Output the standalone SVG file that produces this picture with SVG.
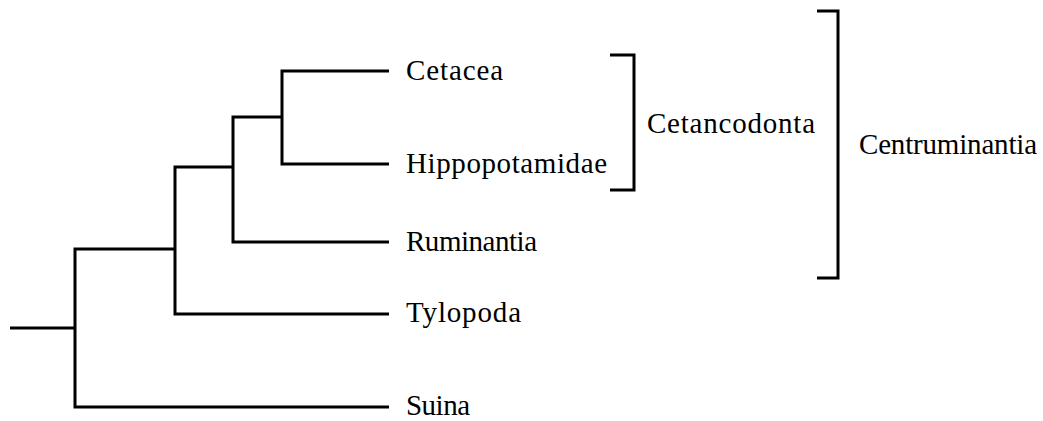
<svg xmlns="http://www.w3.org/2000/svg" width="1043" height="421" viewBox="0 0 1043 421">
<style>
.e{fill:none;stroke:#000;stroke-width:3;stroke-linecap:butt;stroke-linejoin:miter}
.t{font-family:"Liberation Serif","Times New Roman",serif;font-size:29px;fill:#000}
</style>
<rect width="1043" height="421" fill="#fff"/>
<g id="connectors">
<path class="e" d="M10 328H75"/>
<path class="e" d="M175 249H75V407H389"/>
<path class="e" d="M233 167H175V314H389"/>
<path class="e" d="M282 117H233V242H389"/>
<path class="e" d="M389 71H282V164H389"/>
</g>
<g id="cetacea"><text class="t" x="406" y="80" textLength="97" lengthAdjust="spacing">Cetacea</text></g>
<g id="hippopotamidae"><text class="t" x="406" y="173" textLength="201" lengthAdjust="spacing">Hippopotamidae</text></g>
<g id="ruminantia"><text class="t" x="406" y="251" textLength="131" lengthAdjust="spacing">Ruminantia</text></g>
<g id="tylopoda"><text class="t" x="406" y="322" textLength="115" lengthAdjust="spacing">Tylopoda</text></g>
<g id="suina"><text class="t" x="406" y="415" textLength="64" lengthAdjust="spacing">Suina</text></g>
<g id="cetancodonta">
<path class="e" d="M610 55H634V190H610"/>
<text class="t" x="647" y="133" textLength="168" lengthAdjust="spacing">Cetancodonta</text>
</g>
<g id="centruminantia">
<path class="e" d="M817 11H838V278H817"/>
<text class="t" x="859" y="154" textLength="178" lengthAdjust="spacing">Centruminantia</text>
</g>
</svg>
